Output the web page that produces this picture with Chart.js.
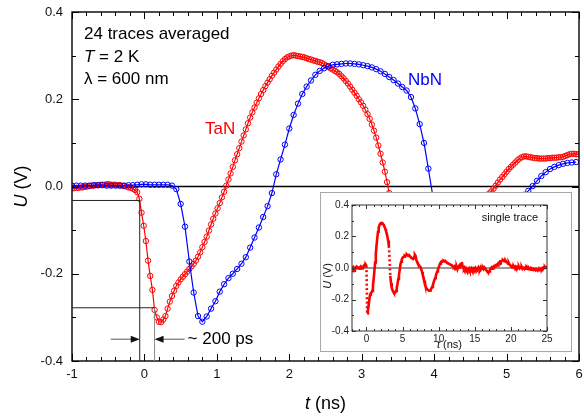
<!DOCTYPE html>
<html>
<head>
<meta charset="utf-8">
<script src="https://cdn.jsdelivr.net/npm/chart.js@4.4.1/dist/chart.umd.min.js"></script>
<style>
  body { margin: 0; background: #fff; }
  #wrap { position: relative; width: 584px; height: 419px; }
  #inset-box {
    position: absolute; left: 320px; top: 192px;
    width: 250px; height: 158px;
    border: 1px solid #a8a8a8; background: #fff;
  }
</style>
</head>
<body>
<div id="wrap">
  <canvas id="main" width="584" height="419"></canvas>
  <div id="inset-box"><canvas id="inset" width="250" height="158"></canvas></div>
</div>
<script>
const FONT = 'Arial, "Liberation Sans", Helvetica, sans-serif';
Chart.defaults.font.family = FONT;

// averaged traces, sampled on a regular time grid (ns)
const tanStart = -1, tanStep = 0.03;
const tanU = [
  -0.004, -0.004, -0.003, -0.003, -0.002, -0.002, -0.001, 0.000, 0.001, 0.002,
  0.002, 0.003, 0.003, 0.004, 0.004, 0.004, 0.005, 0.005, 0.004, 0.004,
  0.004, 0.003, 0.003, 0.002, 0.001, 0.000, -0.002, -0.003, -0.005, -0.008,
  -0.013, -0.028, -0.060, -0.090, -0.125, -0.170, -0.205, -0.237, -0.283, -0.300,
  -0.310, -0.311, -0.305, -0.297, -0.280, -0.264, -0.251, -0.239, -0.228, -0.220,
  -0.213, -0.207, -0.201, -0.195, -0.189, -0.183, -0.177, -0.170, -0.161, -0.151,
  -0.139, -0.127, -0.115, -0.101, -0.087, -0.074, -0.062, -0.050, -0.038, -0.025,
  -0.012, 0.002, 0.016, 0.030, 0.045, 0.060, 0.074, 0.088, 0.103, 0.117,
  0.131, 0.145, 0.158, 0.170, 0.181, 0.192, 0.202, 0.212, 0.221, 0.230,
  0.238, 0.246, 0.254, 0.261, 0.268, 0.275, 0.281, 0.287, 0.292, 0.296,
  0.298, 0.300, 0.301, 0.300, 0.299, 0.298, 0.297, 0.296, 0.294, 0.292,
  0.291, 0.289, 0.288, 0.286, 0.285, 0.283, 0.280, 0.277, 0.274, 0.271,
  0.268, 0.265, 0.262, 0.258, 0.253, 0.248, 0.242, 0.236, 0.229, 0.222,
  0.215, 0.208, 0.200, 0.193, 0.185, 0.176, 0.166, 0.155, 0.142, 0.128,
  0.112, 0.094, 0.075, 0.055, 0.034, 0.010, -0.015, -0.040, -0.062, -0.082,
  -0.100, -0.115, -0.127, -0.137, -0.144, -0.149, -0.152, -0.153, -0.152, -0.149,
  -0.145, -0.140, -0.134, -0.127, -0.120, -0.113, -0.106, -0.099, -0.093, -0.087,
  -0.082, -0.078, -0.074, -0.070, -0.067, -0.064, -0.061, -0.058, -0.056, -0.054,
  -0.052, -0.050, -0.048, -0.046, -0.044, -0.042, -0.040, -0.037, -0.034, -0.030,
  -0.025, -0.020, -0.016, -0.011, -0.005, 0.002, 0.009, 0.016, 0.022, 0.028,
  0.034, 0.040, 0.045, 0.050, 0.055, 0.060, 0.064, 0.067, 0.069, 0.069,
  0.068, 0.067, 0.066, 0.065, 0.065, 0.064, 0.064, 0.064, 0.064, 0.065,
  0.065, 0.066, 0.066, 0.066, 0.067, 0.067, 0.068, 0.070, 0.072, 0.074,
  0.075, 0.075, 0.074, 0.074
];

const nbnStart = -1, nbnStep = 0.06;
const nbnU = [
  0.002, 0.002, 0.002, 0.002, 0.002, 0.003, 0.003, 0.003, 0.002, 0.002,
  0.002, 0.002, 0.002, 0.003, 0.003, 0.004, 0.005, 0.005, 0.004, 0.004,
  0.004, 0.004, 0.004, 0.002, -0.006, -0.040, -0.092, -0.172, -0.243, -0.297,
  -0.310, -0.298, -0.280, -0.263, -0.241, -0.224, -0.210, -0.200, -0.189, -0.177,
  -0.162, -0.140, -0.117, -0.094, -0.070, -0.045, -0.015, 0.028, 0.062, 0.096,
  0.133, 0.164, 0.190, 0.212, 0.229, 0.243, 0.256, 0.265, 0.271, 0.276,
  0.279, 0.280, 0.281, 0.282, 0.282, 0.281, 0.280, 0.278, 0.276, 0.273,
  0.269, 0.264, 0.258, 0.251, 0.244, 0.236, 0.228, 0.220, 0.205, 0.179,
  0.143, 0.100, 0.041, -0.020, -0.080, -0.125, -0.150, -0.160, -0.158, -0.150,
  -0.138, -0.125, -0.112, -0.100, -0.090, -0.081, -0.073, -0.066, -0.059, -0.053,
  -0.047, -0.041, -0.034, -0.027, -0.019, -0.010, 0.001, 0.013, 0.024, 0.033,
  0.040, 0.045, 0.049, 0.052, 0.054, 0.055, 0.056
];

// single-shot TaN trace for the inset
const singleStart = -2, singleStep = 0.1;
const singleU = [
  0.004, -0.003, 0.006, 0.000, -0.005, 0.003, 0.008, -0.002, 0.004, 0.001,
  -0.004, 0.005, 0.010, 0.002, -0.003, 0.006, 0.012, 0.018, 0.010, 0.022,
  0.015, -0.288, -0.270, -0.240, -0.200, -0.170, -0.160, -0.155, -0.145, -0.110,
  -0.070, -0.020, 0.035, 0.090, 0.145, 0.190, 0.230, 0.258, 0.272, 0.280,
  0.285, 0.287, 0.285, 0.280, 0.272, 0.262, 0.250, 0.236, 0.220, 0.200,
  0.175, 0.140, 0.060, -0.050, -0.095, -0.125, -0.140, -0.150, -0.158, -0.160,
  -0.155, -0.145, -0.125, -0.100, -0.070, -0.045, -0.015, 0.020, 0.040, 0.055,
  0.065, 0.070, 0.072, 0.078, 0.075, 0.082, 0.085, 0.080, 0.078, 0.082,
  0.076, 0.070, 0.066, 0.062, 0.060, 0.058, 0.070, 0.085, 0.078, 0.055,
  0.040, 0.030, 0.022, 0.015, 0.010, 0.005, -0.010, -0.025, -0.045, -0.060,
  -0.080, -0.100, -0.118, -0.128, -0.135, -0.138, -0.142, -0.145, -0.143, -0.138,
  -0.130, -0.120, -0.108, -0.092, -0.078, -0.065, -0.050, -0.035, -0.022, -0.010,
  0.002, 0.015, 0.028, 0.036, 0.042, 0.040, 0.044, 0.046, 0.042, 0.045,
  0.040, 0.036, 0.032, 0.030, 0.028, 0.025, 0.022, 0.020, 0.018, 0.012,
  0.008, 0.005, 0.010, -0.004, 0.002, 0.006, -0.008, 0.004, 0.012, 0.018,
  0.010, 0.022, 0.038, 0.015, 0.004, -0.006, 0.002, -0.010, -0.004, -0.014,
  -0.008, -0.012, -0.004, -0.016, -0.010, -0.002, -0.012, -0.006, -0.014, -0.004,
  -0.010, 0.000, -0.008, -0.012, -0.004, 0.004, -0.006, -0.010, 0.002, -0.008,
  -0.004, 0.002, -0.006, 0.004, -0.002, -0.008, -0.014, -0.020, -0.026, -0.030,
  -0.022, -0.012, -0.004, 0.002, -0.004, 0.006, 0.010, 0.004, 0.012, 0.018,
  0.020, 0.016, 0.026, 0.032, 0.030, 0.040, 0.036, 0.044, 0.048, 0.050,
  0.046, 0.050, 0.042, 0.044, 0.036, 0.034, 0.028, 0.032, 0.022, 0.018,
  0.014, 0.008, 0.012, 0.004, 0.010, 0.002, 0.008, 0.000, 0.006, -0.002,
  0.004, 0.008, -0.002, 0.004, 0.000, 0.006, -0.004, 0.002, 0.000, -0.006,
  0.002, -0.004, 0.004, -0.002, -0.008, 0.000, -0.006, -0.002, -0.010, -0.004,
  -0.008, -0.012, -0.006, -0.010, -0.014, -0.008, -0.012, -0.016, -0.010, -0.014,
  -0.006, -0.010, -0.004, -0.008, 0.000, -0.004, 0.004, 0.008, 0.002, 0.006,
  0.004
];

// 10 % and 90 % points of the TaN leading edge
const riseStart = { t: -0.065, u: -0.032 };
const riseEnd = { t: 0.14, u: -0.278 };
const arrowU = -0.35;

const toPoints = (vals, t0, dt) => vals.map((u, i) => ({ x: t0 + i * dt, y: u }));

function mixedText(ctx, parts, x, y, size, opts = {}) {
  const fonts = parts.map(p => (p.it ? 'italic ' : '') + size + 'px ' + FONT);
  let w = 0;
  parts.forEach((p, i) => { ctx.font = fonts[i]; w += ctx.measureText(p.s).width; });
  ctx.save();
  ctx.translate(x, y);
  if (opts.rotate) ctx.rotate(opts.rotate);
  ctx.fillStyle = opts.color || '#000';
  ctx.textBaseline = 'middle';
  ctx.textAlign = 'left';
  let cx = opts.align === 'left' ? 0 : opts.align === 'right' ? -w : -w / 2;
  parts.forEach((p, i) => {
    ctx.font = fonts[i];
    ctx.fillText(p.s, cx, 0);
    cx += ctx.measureText(p.s).width;
  });
  ctx.restore();
}

// box around the plot with ticks pointing inwards on all four sides
function frameWithTicks(o) {
  return {
    id: 'frameWithTicks',
    beforeDatasetsDraw(chart) {
      const { ctx, chartArea: a, scales: { y } } = chart;
      const y0 = y.getPixelForValue(0);
      ctx.save();
      ctx.strokeStyle = o.zeroColor;
      ctx.lineWidth = o.zeroWidth;
      ctx.beginPath();
      ctx.moveTo(a.left, y0);
      ctx.lineTo(a.right, y0);
      ctx.stroke();
      ctx.restore();
    },
    afterDraw(chart) {
      const { ctx, chartArea: a, scales: { x, y } } = chart;
      ctx.save();
      ctx.strokeStyle = o.color;
      ctx.lineWidth = 1;
      ctx.beginPath();
      const isMajor = (v, m) => Math.abs(v / m - Math.round(v / m)) < 1e-6;
      for (let k = Math.ceil(x.min / o.xMinor - 1e-9); k * o.xMinor <= x.max + 1e-9; k++) {
        const v = k * o.xMinor;
        const px = Math.round(x.getPixelForValue(v)) + 0.5;
        const len = isMajor(v, o.xMajor) ? o.major : o.minor;
        ctx.moveTo(px, a.bottom); ctx.lineTo(px, a.bottom - len);
        ctx.moveTo(px, a.top); ctx.lineTo(px, a.top + len);
      }
      for (let k = Math.ceil(y.min / o.yMinor - 1e-9); k * o.yMinor <= y.max + 1e-9; k++) {
        const v = k * o.yMinor;
        const py = Math.round(y.getPixelForValue(v)) + 0.5;
        const len = isMajor(v, o.yMajor) ? o.major : o.minor;
        ctx.moveTo(a.left, py); ctx.lineTo(a.left + len, py);
        ctx.moveTo(a.right, py); ctx.lineTo(a.right - len, py);
      }
      ctx.stroke();
      ctx.lineWidth = o.frameWidth;
      ctx.strokeRect(a.left, a.top, a.right - a.left, a.bottom - a.top);
      ctx.restore();
      if (o.after) o.after(chart);
    }
  };
}

function arrowHead(ctx, x, y, dir) {
  ctx.beginPath();
  ctx.moveTo(x, y);
  ctx.lineTo(x - dir * 9, y - 3.5);
  ctx.lineTo(x - dir * 9, y + 3.5);
  ctx.closePath();
  ctx.fill();
}

function drawMainText(chart) {
  const { ctx, chartArea: a, scales: { x, y } } = chart;

  // rise-time construction
  const xs = x.getPixelForValue(riseStart.t), xe = x.getPixelForValue(riseEnd.t);
  const ys = y.getPixelForValue(riseStart.u), ye = y.getPixelForValue(riseEnd.u);
  const ya = y.getPixelForValue(arrowU);
  ctx.save();
  ctx.lineWidth = 1;
  ctx.strokeStyle = '#222';
  ctx.beginPath();
  ctx.moveTo(a.left, ys); ctx.lineTo(xs, ys); ctx.lineTo(xs, a.bottom);
  ctx.moveTo(a.left, ye); ctx.lineTo(xe, ye);
  ctx.stroke();
  ctx.strokeStyle = '#888';
  ctx.beginPath();
  ctx.moveTo(xe, ye); ctx.lineTo(xe, a.bottom);
  ctx.stroke();
  ctx.strokeStyle = '#555';
  ctx.fillStyle = '#111';
  ctx.beginPath();
  ctx.moveTo(xs - 29, ya); ctx.lineTo(xs - 8, ya);
  ctx.moveTo(xe + 30, ya); ctx.lineTo(xe + 8, ya);
  ctx.stroke();
  arrowHead(ctx, xs, ya, 1);
  arrowHead(ctx, xe, ya, -1);
  ctx.restore();
  mixedText(ctx, [{ s: '~ 200 ps' }], xe + 33, ya, 17, { align: 'left' });

  // labels
  mixedText(ctx, [{ s: '24 traces averaged' }], 84, 34, 17, { align: 'left' });
  mixedText(ctx, [{ s: 'T', it: true }, { s: ' = 2 K' }], 84, 57, 17, { align: 'left' });
  mixedText(ctx, [{ s: '\u03bb = 600 nm' }], 84, 79, 17, { align: 'left' });
  mixedText(ctx, [{ s: 'TaN' }], 205, 129, 17, { align: 'left', color: '#ff0000' });
  mixedText(ctx, [{ s: 'NbN' }], 408, 80, 17, { align: 'left', color: '#0000ff' });

  // axis titles
  mixedText(ctx, [{ s: 'U', it: true }, { s: ' (V)' }], 22, (a.top + a.bottom) / 2, 18, { rotate: -Math.PI / 2 });
  mixedText(ctx, [{ s: 't', it: true }, { s: ' (ns)' }], (a.left + a.right) / 2, 404, 18);
}

function drawInsetText(chart) {
  const { ctx, chartArea: a } = chart;
  mixedText(ctx, [{ s: 'single trace' }], 217, 25, 11, { align: 'right', color: '#111' });
  mixedText(ctx, [{ s: 'U', it: true }, { s: ' (V)' }], 7, 83, 11, { rotate: -Math.PI / 2, color: '#111' });
  mixedText(ctx, [{ s: 't', it: true }, { s: ' (ns)' }], (a.left + a.right) / 2, 152, 11, { color: '#111' });
}

const vFmt = v => (Math.abs(v) < 1e-9 ? '0.0' : v.toFixed(1));

new Chart(document.getElementById('main'), {
  type: 'line',
  data: {
    datasets: [
      {
        label: 'NbN',
        data: toPoints(nbnU, nbnStart, nbnStep),
        borderColor: '#0000ff',
        borderWidth: 1.2,
        pointRadius: 2.7,
        pointBorderWidth: 1,
        pointBorderColor: '#0000ff',
        pointBackgroundColor: 'rgba(0,0,0,0)'
      },
      {
        label: 'TaN',
        data: toPoints(tanU, tanStart, tanStep),
        borderColor: '#ff0000',
        borderWidth: 1.2,
        pointRadius: 2.7,
        pointBorderWidth: 1,
        pointBorderColor: '#ff0000',
        pointBackgroundColor: 'rgba(0,0,0,0)'
      }
    ]
  },
  options: {
    responsive: false,
    animation: false,
    layout: { padding: { left: 0, top: 12, right: 3, bottom: 0 } },
    plugins: { legend: { display: false }, tooltip: { enabled: false } },
    scales: {
      x: {
        type: 'linear', min: -1, max: 6,
        ticks: { stepSize: 1, padding: 6, color: '#111', font: { size: 13 }, maxRotation: 0 },
        grid: { display: false, drawTicks: false },
        border: { display: false },
        afterFit: s => { s.height = 58; s.paddingLeft = 0; s.paddingRight = 0; }
      },
      y: {
        min: -0.4, max: 0.4,
        ticks: { stepSize: 0.2, padding: 9, color: '#111', font: { size: 13 }, callback: vFmt },
        grid: { display: false, drawTicks: false },
        border: { display: false },
        afterFit: s => { s.width = 72; s.paddingTop = 0; s.paddingBottom = 0; }
      }
    }
  },
  plugins: [frameWithTicks({
    xMinor: 0.2, xMajor: 1, yMinor: 0.1, yMajor: 0.2, major: 7, minor: 4,
    color: '#000', frameWidth: 1.4, zeroColor: '#000', zeroWidth: 1.5, after: drawMainText
  })]
});

new Chart(document.getElementById('inset'), {
  type: 'line',
  data: {
    datasets: [{
      label: 'single trace',
      data: toPoints(singleU, singleStart, singleStep),
      borderColor: '#ff0000',
      borderWidth: 2.6,
      pointRadius: 0,
      segment: {
        borderDash: c => (Math.abs(c.p1.y - c.p0.y) > 12 ? [2, 2.5] : undefined)
      }
    }]
  },
  options: {
    responsive: false,
    animation: false,
    layout: { padding: { left: 0, top: 12, right: 24, bottom: 0 } },
    plugins: { legend: { display: false }, tooltip: { enabled: false } },
    scales: {
      x: {
        type: 'linear', min: -2, max: 25,
        ticks: { stepSize: 5, includeBounds: false, padding: 2, color: '#222', font: { size: 10 }, maxRotation: 0 },
        grid: { display: false, drawTicks: false },
        border: { display: false },
        afterFit: s => { s.height = 20; s.paddingLeft = 0; s.paddingRight = 0; }
      },
      y: {
        min: -0.4, max: 0.4,
        ticks: { stepSize: 0.2, padding: 3, color: '#222', font: { size: 10 }, callback: vFmt },
        grid: { display: false, drawTicks: false },
        border: { display: false },
        afterFit: s => { s.width = 31; s.paddingTop = 0; s.paddingBottom = 0; }
      }
    }
  },
  plugins: [frameWithTicks({
    xMinor: 1, xMajor: 5, yMinor: 0.1, yMajor: 0.2, major: 4, minor: 2,
    color: '#333', frameWidth: 1, zeroColor: '#333', zeroWidth: 1, after: drawInsetText
  })]
});
</script>
</body>
</html>
